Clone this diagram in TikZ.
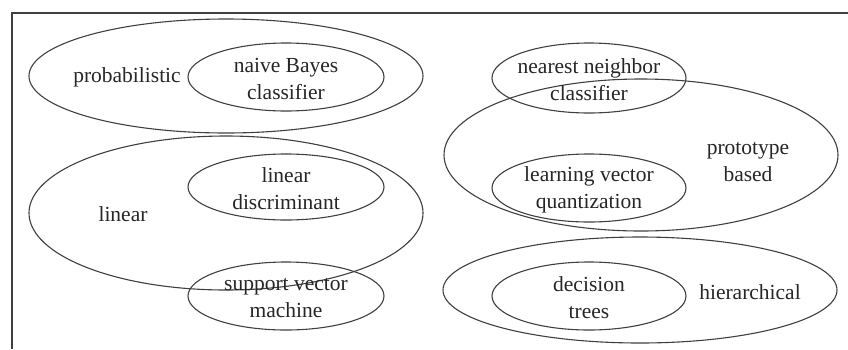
\documentclass[tikz,border=0pt]{standalone}
\usepackage{fontspec}
\setmainfont{Liberation Serif}
\usetikzlibrary{shapes.geometric}
\begin{document}
\begin{tikzpicture}[x=1pt,y=-1pt,
  ell/.style={draw=black!75,line width=1.1pt},
  lbl/.style={font=\fontsize{21.5}{27}\selectfont,text=black!85,align=center,inner sep=0pt}]
\useasboundingbox (0,0) rectangle (848,349);
\fill[white] (0,0) rectangle (848,349);
\coordinate (frTL) at (12,13);
\coordinate (frTR) at (848,13);
\coordinate (frBL) at (12,349);
\draw[line width=1.6pt,black!75] (frTR) -- (frTL) -- (frBL);
% left column
\draw[ell] (226,76) ellipse [x radius=197,y radius=57];
\draw[ell] (286,77) ellipse [x radius=98,y radius=34];
\draw[ell] (226,213) ellipse [x radius=197,y radius=77];
\draw[ell] (286,187) ellipse [x radius=98,y radius=33];
\draw[ell] (286,296) ellipse [x radius=98,y radius=34];
% right column
\draw[ell] (589,78) ellipse [x radius=97,y radius=35];
\draw[ell] (641,155) ellipse [x radius=197,y radius=76];
\draw[ell] (589,188) ellipse [x radius=97,y radius=34];
\draw[ell] (640,290) ellipse [x radius=197,y radius=53];
\draw[ell] (589,296) ellipse [x radius=97,y radius=34];
% labels
\node[lbl] (prob) at (127,77) {probabilistic};
\node[lbl] (nb) at (286,79) {naive Bayes\\classifier};
\node[lbl] (lin) at (123,214) {linear};
\node[lbl] (ld) at (286,189) {linear\\discriminant};
\node[lbl] (svm) at (286,298) {support vector\\machine};
\node[lbl] (nn) at (589,80) {nearest neighbor\\classifier};
\node[lbl] (proto) at (748,162) {prototype\\based};
\node[lbl] (lvq) at (589,190) {learning vector\\quantization};
\node[lbl] (hier) at (750,292) {hierarchical};
\node[lbl] (dt) at (589,298) {decision\\trees};
\end{tikzpicture}
\end{document}
